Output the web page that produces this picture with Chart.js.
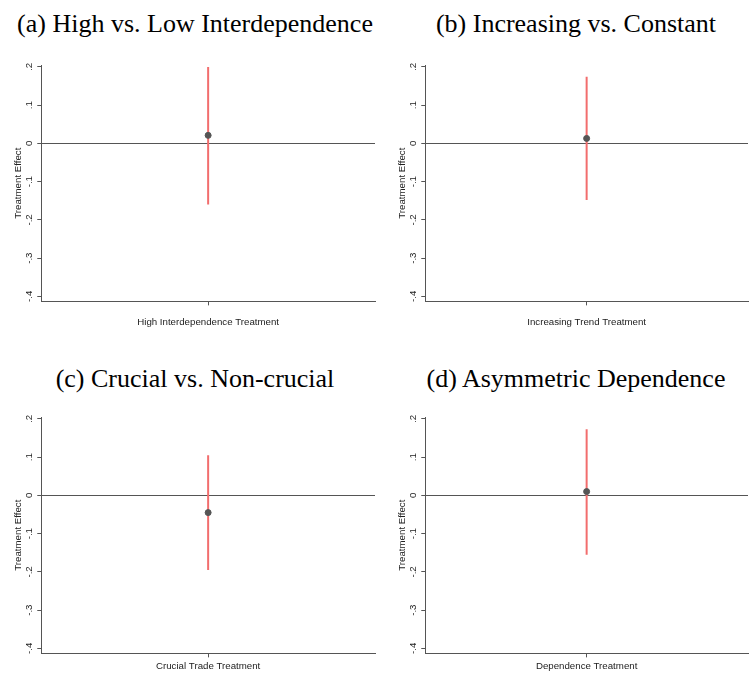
<!DOCTYPE html>
<html lang="en">
<head>
<meta charset="UTF-8">
<title>Treatment Effects</title>
<script src="https://cdn.jsdelivr.net/npm/chart.js"></script>
<style>
    body { margin: 0; background: #fff; }
    .wrap { position: relative; width: 753px; height: 675px; overflow: hidden; }
    .ptitle {
        position: absolute;
        font-family: 'Liberation Serif', 'Times New Roman', serif;
        font-size: 26px;
        line-height: 30px;
        color: #000;
        text-align: center;
        white-space: nowrap;
    }
    canvas { position: absolute; }
</style>
</head>
<body>
<div class="wrap">
    <div class="ptitle" style="left:0; top:9px; width:390px;" id="t0"></div>
    <div class="ptitle" style="left:400px; top:9px; width:352px;" id="t1"></div>
    <div class="ptitle" style="left:0; top:364px; width:390px;" id="t2"></div>
    <div class="ptitle" style="left:400px; top:364px; width:352px;" id="t3"></div>
    <canvas id="c0" width="380" height="289" style="left:0; top:50px;"></canvas>
    <canvas id="c1" width="373" height="289" style="left:380px; top:50px;"></canvas>
    <canvas id="c2" width="380" height="275" style="left:0; top:402px;"></canvas>
    <canvas id="c3" width="373" height="275" style="left:380px; top:402px;"></canvas>
</div>
<script>
// --- Daten ---
const panelTitles = [
    '(a) High vs. Low Interdependence',
    '(b) Increasing vs. Constant',
    '(c) Crucial vs. Non-crucial',
    '(d) Asymmetric Dependence'
];
const xLabels = [
    'High Interdependence Treatment',
    'Increasing Trend Treatment',
    'Crucial Trade Treatment',
    'Dependence Treatment'
];
const estimates = [0.021, 0.013, -0.045, 0.010];
const ciLow = [-0.160, -0.148, -0.195, -0.155];
const ciHigh = [0.200, 0.174, 0.105, 0.173];
const yTicks = [-0.4, -0.3, -0.2, -0.1, 0, 0.1, 0.2];

const axisColor = '#555';
const sans = "'Liberation Sans', Arial, sans-serif";

// Stata-Format: .2, -.1, 0
function fmt(v) {
    if (Math.abs(v) < 1e-9) return '0';
    return v.toFixed(1).replace('0.', '.');
}

function makePanel(i) {
    document.getElementById('t' + i).textContent = panelTitles[i];
    const ctx = document.getElementById('c' + i).getContext('2d');
    const rightCol = i % 2 === 1;
    const topRow = i < 2;
    new Chart(ctx, {
        type: 'scatter',
        data: {
            datasets: [
                {
                    // Punktschätzer
                    data: [{ x: 0, y: estimates[i] }],
                    backgroundColor: '#555',
                    borderColor: '#555',
                    pointRadius: 3,
                    order: 0
                },
                {
                    // Konfidenzintervall
                    type: 'line',
                    data: [{ x: 0, y: ciLow[i] }, { x: 0, y: ciHigh[i] }],
                    borderColor: '#f26d6d',
                    borderWidth: 2,
                    pointRadius: 0,
                    order: 1
                }
            ]
        },
        options: {
            responsive: false,
            animation: false,
            layout: { padding: { top: 15, right: rightCol ? 0 : 2, left: rightCol ? 17 : 13, bottom: topRow ? 0 : 2 } },
            plugins: { legend: { display: false }, tooltip: { enabled: false } },
            scales: {
                x: {
                    type: 'linear',
                    min: -1,
                    max: 1,
                    afterBuildTicks: axis => { axis.ticks = [{ value: 0 }]; },
                    ticks: {
                        callback: () => xLabels[i],
                        color: '#222',
                        font: { family: sans, size: 9.7 },
                        padding: topRow ? 11 : 3,
                        maxRotation: 0
                    },
                    grid: { drawOnChartArea: false, tickLength: 4, color: axisColor },
                    border: { color: axisColor, width: 1 }
                },
                y: {
                    min: -0.413,
                    max: 0.205,
                    afterBuildTicks: axis => { axis.ticks = yTicks.map(v => ({ value: v })); },
                    ticks: {
                        callback: v => fmt(v),
                        color: '#222',
                        font: { family: sans, size: 9.7 },
                        minRotation: 90,
                        maxRotation: 90,
                        crossAlign: 'center',
                        padding: 2
                    },
                    grid: {
                        tickLength: 4,
                        tickColor: axisColor,
                        lineWidth: 1,
                        color: c => (c.tick && Math.abs(c.tick.value) < 1e-9) ? axisColor : 'rgba(0,0,0,0)'
                    },
                    border: { color: axisColor, width: 1 },
                    title: {
                        display: true,
                        text: 'Treatment Effect',
                        color: '#222',
                        font: { family: sans, size: 9.7 },
                        padding: { top: 0, bottom: -3 }
                    }
                }
            }
        }
    });
}

for (let i = 0; i < 4; i++) makePanel(i);
</script>
</body>
</html>
